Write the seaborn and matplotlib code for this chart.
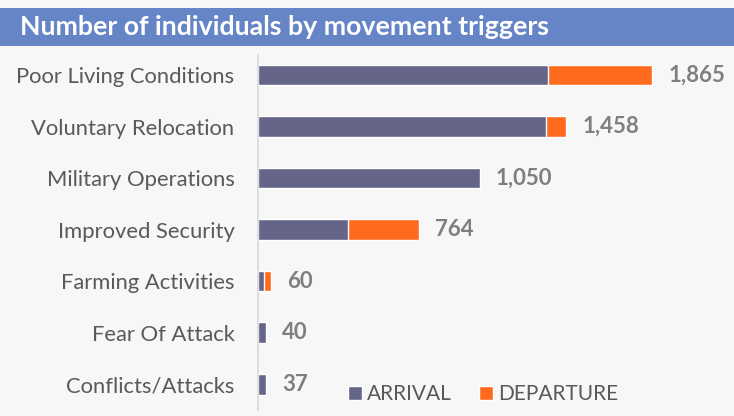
import matplotlib
matplotlib.use("Agg")
import matplotlib.pyplot as plt
import seaborn as sns
import pandas as pd
from matplotlib.patches import Rectangle, Patch

categories = ["Poor Living Conditions", "Voluntary Relocation", "Military Operations",
              "Improved Security", "Farming Activities", "Fear Of Attack", "Conflicts/Attacks"]
arrival = [1372, 1362, 1050, 426, 29, 37, 37]
departure = [493, 96, 0, 338, 31, 3, 0]
value_labels = ["1,865", "1,458", "1,050", "764", "60", "40", "37"]

ARR_C = "#656489"
DEP_C = "#FF6A1F"
BG = "#F7F7F7"

sns.set_theme(style="white")
plt.rcParams["font.family"] = ["Lato", "DejaVu Sans"]

df = pd.DataFrame({"cat": categories, "arrival": arrival, "departure": departure})
df["total"] = df["arrival"] + df["departure"]

W, H = 734, 416
fig = plt.figure(figsize=(W / 100, H / 100), dpi=100, facecolor=BG)

# title band
fig.patches.append(Rectangle((0, 1 - 46 / H), 1, 38 / H, transform=fig.transFigure,
                             facecolor="#6585C6", edgecolor="none", zorder=0))
fig.text(20 / W, 1 - 27 / H, "Number of individuals by movement triggers", color="white",
         fontsize=19.3, fontweight="bold", va="center", ha="left")

ax = fig.add_axes([258 / W, 6 / H, (720 - 258) / W, (410 - 55) / H])
ax.set_facecolor(BG)

sns.barplot(data=df, y="cat", x="total", color=DEP_C, orient="h", width=0.4,
            ax=ax, saturation=1, errorbar=None)
sns.barplot(data=df, y="cat", x="arrival", color=ARR_C, orient="h", width=0.4,
            ax=ax, saturation=1, errorbar=None)

for i, (t, lab) in enumerate(zip(df["total"], value_labels)):
    ax.annotate(lab, xy=(t, i), xytext=(11.5, 0), textcoords="offset points",
                va="center", ha="left", fontsize=16, fontweight="bold", color="#7F7F7F")

ax.set_xlim(0, (720 - 258) / 0.2113)
ax.set_ylim(6.5, -0.39)
ax.set_xlabel("")
ax.set_ylabel("")
ax.set_xticks([])
ax.tick_params(axis="y", length=0, pad=17, labelsize=15.8, labelcolor="#595959")
for s in ["top", "right", "bottom"]:
    ax.spines[s].set_visible(False)
ax.spines["left"].set_color("#D9D9D9")
ax.spines["left"].set_linewidth(1.2)

handles = [Patch(facecolor=ARR_C, label="ARRIVAL"), Patch(facecolor=DEP_C, label="DEPARTURE")]
fig.legend(handles=handles, loc="center left", bbox_to_anchor=(348 / W, 1 - 394 / H),
           ncol=2, frameon=False, fontsize=15, handlelength=0.67, handleheight=0.67,
           handletextpad=0.25, columnspacing=1.3, labelcolor="#595959", borderpad=0,
           borderaxespad=0)

fig.savefig("out.png", dpi=100, facecolor=BG)
